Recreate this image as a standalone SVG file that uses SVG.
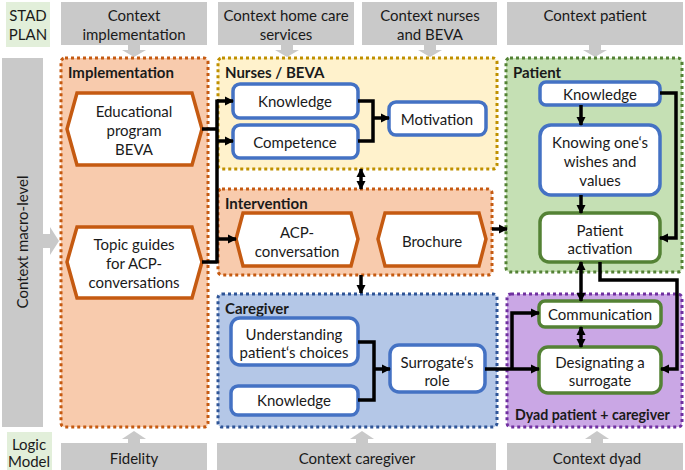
<svg xmlns="http://www.w3.org/2000/svg" width="685" height="470" viewBox="0 0 685 470">
<style>
text{font-family:Lato,"Open Sans","Liberation Sans",sans-serif;font-size:15px;fill:#1a1a1a;text-anchor:middle;dominant-baseline:central}
.b{font-weight:bold;text-anchor:start}
.gray{fill:#c9c9c9}
.lg{fill:#e2efda}
.grp{stroke-width:3;stroke-dasharray:3 3}
.or{fill:#f8cbad;stroke:#c55a11}
.ye{fill:#fff2cc;stroke:#bf9000}
.gr{fill:#c5e0b4;stroke:#548235}
.bl{fill:#b4c7e7;stroke:#2f5597}
.pu{fill:#caa7e5;stroke:#7030a0}
.hex{fill:#fff;stroke:#c55a11;stroke-width:3.5}
.nb{fill:#fff;stroke:#4472c4;stroke-width:3.5}
.ng{fill:#fff;stroke:#548235;stroke-width:3.5}
.c{fill:none;stroke:#000;stroke-width:3.5}
.a{marker-end:url(#ah)}
.d{marker-start:url(#as);marker-end:url(#ah)}
</style>
<defs>
<marker id="ah" markerUnits="userSpaceOnUse" markerWidth="10" markerHeight="10" refX="8" refY="5" orient="auto"><path d="M0,0.5 L9,5 L0,9.5 Z" fill="#000"/></marker>
<marker id="as" markerUnits="userSpaceOnUse" markerWidth="10" markerHeight="10" refX="2" refY="5" orient="auto"><path d="M10,0.5 L1,5 L10,9.5 Z" fill="#000"/></marker>
</defs>

<!-- context headers -->
<g id="stad"><rect class="lg" x="6" y="2" width="44" height="45"/><text x="28" y="15">STAD</text><text x="28" y="34">PLAN</text></g>
<g id="ctx-impl"><path class="gray" d="M61,2H207V45H140V50H146L134,57L122,50H128V45H61Z"/><text x="134" y="15">Context</text><text x="134" y="34">implementation</text></g>
<g id="ctx-home"><path class="gray" d="M218,2H354V45H293V50H299L287,57L275,50H281V45H218Z"/><text x="286" y="15">Context home care</text><text x="286" y="34">services</text></g>
<g id="ctx-nurses"><path class="gray" d="M362,2H497V45H436V50H442L430,57L418,50H424V45H362Z"/><text x="430" y="15">Context nurses</text><text x="430" y="34">and BEVA</text></g>
<g id="ctx-patient"><path class="gray" d="M507,2H683V45H601V50H607L595,57L583,50H589V45H507Z"/><text x="595" y="15">Context patient</text></g>
<g id="ctx-macro"><path class="gray" d="M2,58H43V234H50V227L59,241L50,255V248H43V427H2Z"/><text transform="translate(22,242) rotate(-90)">Context macro-level</text></g>

<!-- groups -->
<g id="implementation">
<rect class="grp or" x="61" y="58" width="147" height="369" rx="4"/>
<text class="b" x="68" y="72">Implementation</text>
<g id="edu"><path class="hex" d="M77,93H192L202,129L192,165H77L67,129Z"/><text x="134" y="111">Educational</text><text x="134" y="130">program</text><text x="134" y="149">BEVA</text></g>
<g id="topic"><path class="hex" d="M77,227H192L202,262L192,298H77L67,262Z"/><text x="134" y="244">Topic guides</text><text x="134" y="263">for ACP-</text><text x="134" y="282">conversations</text></g>
</g>

<g id="nurses">
<rect class="grp ye" x="218" y="58" width="279" height="111" rx="4"/>
<text class="b" x="225" y="72">Nurses / BEVA</text>
<g id="n-knowledge"><rect class="nb" x="233" y="84" width="125" height="34" rx="7"/><text x="295" y="101">Knowledge</text></g>
<g id="n-competence"><rect class="nb" x="233" y="125" width="125" height="33" rx="7"/><text x="295" y="142">Competence</text></g>
<g id="n-motivation"><rect class="nb" x="389" y="102" width="97" height="33" rx="7"/><text x="437" y="119">Motivation</text></g>
</g>

<g id="intervention">
<rect class="grp or" x="218" y="189" width="274" height="86" rx="4"/>
<text class="b" x="225" y="203">Intervention</text>
<g id="acp"><path class="hex" d="M243,213H351L358,239L351,266H243L236,239Z"/><text x="297" y="232">ACP-</text><text x="297" y="251">conversation</text></g>
<g id="brochure"><path class="hex" d="M385,213H479L486,239L479,266H385L378,239Z"/><text x="432" y="241">Brochure</text></g>
</g>

<g id="patient">
<rect class="grp gr" x="506" y="58" width="176" height="214" rx="4"/>
<text class="b" x="513" y="72">Patient</text>
<g id="p-knowledge"><rect class="nb" x="540" y="82" width="120" height="23" rx="6"/><text x="600" y="94">Knowledge</text></g>
<g id="p-knowing"><rect class="nb" x="540" y="125" width="120" height="70" rx="11"/><text x="600" y="142">Knowing one‘s</text><text x="600" y="161">wishes and</text><text x="600" y="180">values</text></g>
<g id="p-activation"><rect class="ng" x="540" y="213" width="120" height="49" rx="9"/><text x="600" y="230">Patient</text><text x="600" y="248">activation</text></g>
</g>

<g id="caregiver">
<rect class="grp bl" x="218" y="294" width="279" height="133" rx="4"/>
<text class="b" x="225" y="308">Caregiver</text>
<g id="c-understanding"><rect class="nb" x="231" y="318" width="127" height="47" rx="9"/><text x="294" y="334">Understanding</text><text x="294" y="352">patient‘s choices</text></g>
<g id="c-knowledge"><rect class="nb" x="231" y="386" width="127" height="29" rx="7"/><text x="294" y="400">Knowledge</text></g>
<g id="c-surrogate"><rect class="nb" x="390" y="345" width="95" height="47" rx="9"/><text x="437" y="362">Surrogate‘s</text><text x="437" y="380">role</text></g>
</g>

<g id="dyad">
<rect class="grp pu" x="507" y="294" width="175" height="133" rx="4"/>
<g id="d-communication"><rect class="ng" x="539" y="301" width="122" height="26" rx="6"/><text x="600" y="314">Communication</text></g>
<g id="d-designating"><rect class="ng" x="539" y="347" width="122" height="46" rx="9"/><text x="600" y="362">Designating a</text><text x="600" y="380">surrogate</text></g>
<text class="b" x="515" y="414" style="font-size:14.2px">Dyad patient + caregiver</text>
</g>

<!-- bottom -->
<g id="logic"><rect class="lg" x="7" y="432" width="45" height="38"/><text x="29" y="444">Logic</text><text x="29" y="461">Model</text></g>
<g id="fidelity"><path class="gray" d="M61,443H128V439H122L134,431L146,439H140V443H207V470H61Z"/><text x="134" y="458">Fidelity</text></g>
<g id="ctx-caregiver"><path class="gray" d="M217,443H356V439H350L362,431L374,439H368V443H496V470H217Z"/><text x="357" y="458">Context caregiver</text></g>
<g id="ctx-dyad"><path class="gray" d="M507,443H591V439H585L597,431L609,439H603V443H683V470H507Z"/><text x="597" y="458">Context dyad</text></g>

<!-- connectors -->
<g id="connectors">
<path class="c" d="M202,129H217M202,262H217M217,99.5V263.5"/>
<path class="c a" d="M217,101H233"/>
<path class="c a" d="M217,141H233"/>
<path class="c a" d="M217,239H236"/>
<path class="c" d="M358,101H373V141H358"/>
<path class="c a" d="M373,118H389"/>
<path class="c d" d="M361,169V189"/>
<path class="c a" d="M361,275V293"/>
<path class="c a" d="M492,229H507"/>
<path class="c a" d="M581,105V125"/>
<path class="c a" d="M581,195V213"/>
<path class="c a" d="M660,93H676V238H660"/>
<path class="c a" d="M600,262V280H677V369H661"/>
<path class="c d" d="M581,262V301"/>
<path class="c d" d="M581,327V347"/>
<path class="c" d="M358,342H374V400H358"/>
<path class="c a" d="M374,369H390"/>
<path class="c a" d="M485,369H539"/>
<path class="c a" d="M512,369V313H539"/>
</g>
</svg>
